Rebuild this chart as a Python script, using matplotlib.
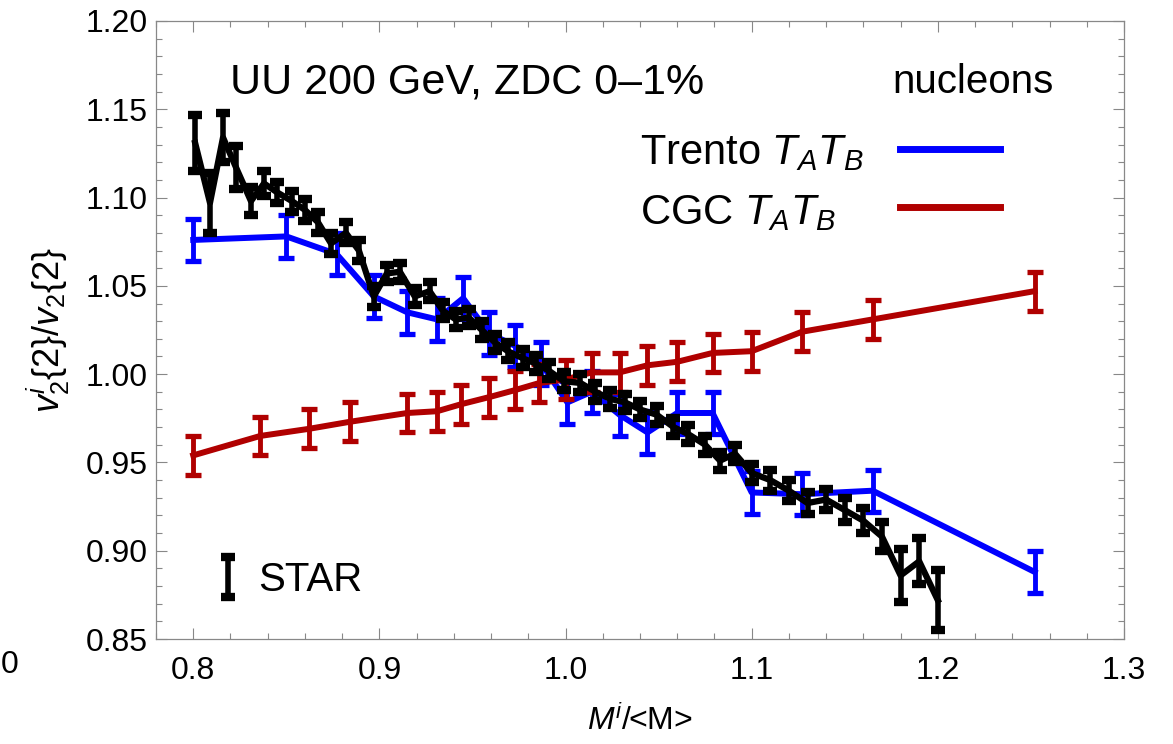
import numpy as np
import matplotlib.pyplot as plt
from matplotlib.lines import Line2D
from matplotlib.ticker import MultipleLocator

# STAR data
star_x = [0.801, 0.809, 0.816, 0.823, 0.831, 0.838, 0.845, 0.853, 0.860, 0.867,
          0.874, 0.882, 0.889, 0.897, 0.904, 0.911, 0.919, 0.927, 0.934, 0.941,
          0.948, 0.955, 0.962, 0.969, 0.977, 0.984, 0.991, 0.999, 1.008, 1.016,
          1.024, 1.032, 1.040, 1.049, 1.058, 1.066, 1.075, 1.083, 1.091, 1.100,
          1.110, 1.120, 1.130, 1.140, 1.150, 1.160, 1.170, 1.180, 1.190, 1.200]
star_y = [1.131, 1.097, 1.134, 1.117, 1.098, 1.108, 1.103, 1.098, 1.093, 1.086,
          1.074, 1.080, 1.070, 1.044, 1.057, 1.058, 1.044, 1.047, 1.036, 1.031,
          1.032, 1.025, 1.018, 1.013, 1.009, 1.006, 1.002, 0.996, 0.995, 0.990,
          0.986, 0.984, 0.980, 0.977, 0.970, 0.966, 0.960, 0.951, 0.955, 0.944,
          0.940, 0.934, 0.927, 0.929, 0.923, 0.917, 0.908, 0.886, 0.894, 0.872]
star_err = [0.016, 0.017, 0.014, 0.012, 0.008, 0.007, 0.006, 0.006, 0.006, 0.006,
            0.006, 0.006, 0.006, 0.006, 0.005, 0.005, 0.005, 0.005, 0.005, 0.005,
            0.005, 0.005, 0.005, 0.005, 0.005, 0.005, 0.005, 0.005, 0.005, 0.005,
            0.005, 0.005, 0.005, 0.005, 0.005, 0.005, 0.005, 0.005, 0.005, 0.005,
            0.006, 0.006, 0.006, 0.006, 0.007, 0.007, 0.008, 0.015, 0.013, 0.017]

# Trento T_A T_B
trento_x = [0.800, 0.850, 0.877, 0.897, 0.915, 0.931, 0.945, 0.959, 0.973, 0.987,
            1.001, 1.014, 1.029, 1.044, 1.060, 1.079, 1.100, 1.127, 1.165, 1.252]
trento_y = [1.076, 1.078, 1.068, 1.044, 1.035, 1.031, 1.043, 1.023, 1.016, 1.006,
            0.984, 0.990, 0.977, 0.967, 0.978, 0.978, 0.933, 0.932, 0.934, 0.888]
trento_err = [0.012] * 20

# CGC T_A T_B
cgc_x = [0.800, 0.836, 0.862, 0.884, 0.915, 0.931, 0.944, 0.959, 0.973, 0.986,
         1.000, 1.014, 1.029, 1.044, 1.060, 1.079, 1.100, 1.127, 1.165, 1.252]
cgc_y = [0.954, 0.965, 0.969, 0.973, 0.978, 0.979, 0.983, 0.987, 0.991, 0.995,
         0.997, 1.001, 1.001, 1.005, 1.007, 1.012, 1.013, 1.024, 1.031, 1.047]
cgc_err = [0.011] * 20

model_labels = [r'Trento $T_AT_B$', r'CGC $T_AT_B$']

plt.rcParams['font.family'] = ['Liberation Sans', 'DejaVu Sans']
plt.rcParams['mathtext.fontset'] = 'custom'
plt.rcParams['mathtext.rm'] = 'Liberation Sans'
plt.rcParams['mathtext.it'] = 'Liberation Sans:italic'
plt.rcParams['mathtext.bf'] = 'Liberation Sans:bold'

blue = '#0000ff'
red = '#b00000'

fig = plt.figure(figsize=(11.73, 7.44), dpi=100)
ax = fig.add_axes([0.133, 0.1411, 0.8252, 0.8307])

ax.errorbar(trento_x, trento_y, yerr=trento_err, color=blue, lw=4.3,
            elinewidth=3.5, capsize=5.5, capthick=3.8, zorder=2)
ax.errorbar(cgc_x, cgc_y, yerr=cgc_err, color=red, lw=4.3,
            elinewidth=3.5, capsize=5.5, capthick=3.8, zorder=3)
ax.plot(star_x, star_y, color='k', lw=4.5, zorder=4)
star = ax.errorbar(star_x, star_y, yerr=star_err, fmt='none', ecolor='k',
                   elinewidth=4, capsize=5, capthick=6, zorder=5,
                   label='STAR')

ax.set_xlim(0.78, 1.3)
ax.set_ylim(0.85, 1.20)
ax.xaxis.set_major_locator(MultipleLocator(0.1))
ax.xaxis.set_minor_locator(MultipleLocator(0.02))
ax.yaxis.set_major_locator(MultipleLocator(0.05))
ax.yaxis.set_minor_locator(MultipleLocator(0.01))
ax.xaxis.set_major_formatter(plt.FormatStrFormatter('%.1f'))
ax.yaxis.set_major_formatter(plt.FormatStrFormatter('%.2f'))
ax.tick_params(which='both', direction='in', top=True, right=True,
               color='#888888', labelsize=23)
ax.tick_params(which='major', length=8, width=0.8)
ax.tick_params(which='minor', length=4, width=0.8)
ax.tick_params(axis='x', pad=12)
ax.tick_params(axis='y', pad=6)
for s in ax.spines.values():
    s.set_color('#888888')
    s.set_linewidth(0.9)

ax.set_xlabel(r'$M^i$/<M>', fontsize=23, labelpad=14)
ax.set_ylabel(r'$v_2^i\{2\}/v_2\{2\}$', fontsize=26, labelpad=10)

ax.text(0.076, 0.901, 'UU 200 GeV, ZDC 0\u20131%', transform=ax.transAxes,
        fontsize=31, va='center')
ax.text(0.761, 0.901, 'nucleons', transform=ax.transAxes, fontsize=29,
        va='center')

# model labels, left aligned, with line samples to the right
ax.text(0.500, 0.7686, model_labels[0], transform=ax.transAxes,
        fontsize=30, va='baseline', ha='left')
ax.text(0.500, 0.6715, model_labels[1], transform=ax.transAxes,
        fontsize=30, va='baseline', ha='left')
h_tr = Line2D([], [], color=blue, lw=5)
h_cg = Line2D([], [], color=red, lw=5)
leg1 = ax.legend([h_tr, h_cg], ['', ''],
                 loc='upper left', bbox_to_anchor=(0.769, 0.82),
                 frameon=False, fontsize=30,
                 handlelength=2.4, handletextpad=0, labelspacing=0.45,
                 borderaxespad=0, borderpad=0)
ax.add_artist(leg1)
ax.legend(handles=[star], loc='lower left', bbox_to_anchor=(0.06, 0.065),
          frameon=False, fontsize=29, handlelength=0.7, handletextpad=0.4,
          borderaxespad=0, borderpad=0)

fig.text(1 / 1173, 1 - 665 / 744, '0', fontsize=23, ha='left', va='center')

fig.savefig('out.png', dpi=100)
